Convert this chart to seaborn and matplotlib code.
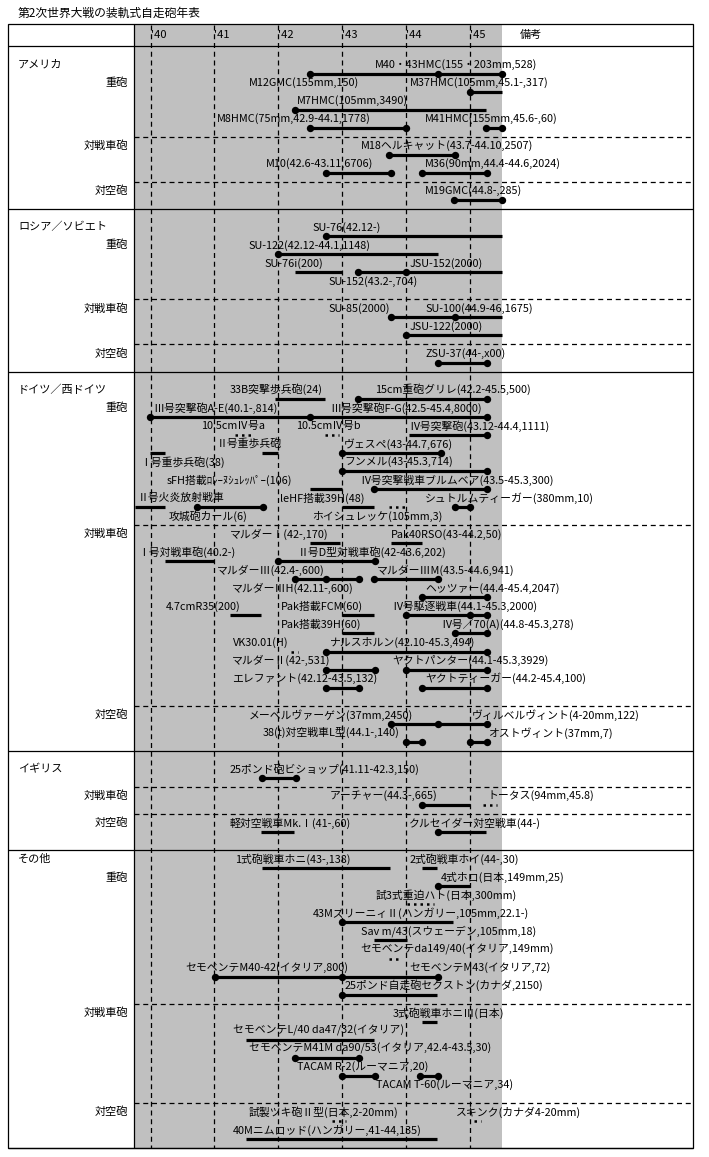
import matplotlib
matplotlib.use("Agg")
import matplotlib.pyplot as plt
from matplotlib.patches import Rectangle
import pandas as pd
import seaborn as sns

# ---------------- data ----------------
title = "第2次世界大戦の装軌式自走砲年表"
years = [40, 41, 42, 43, 44, 45]
year_labels = ["'40", "'41", "'42", "'43", "'44", "'45"]

countries = ["アメリカ", "ロシア／ソビエト", "ドイツ／西ドイツ", "イギリス", "その他"]
country_rows = [2, 20, 38, 80, 90]

kinds = ["重砲", "対戦車砲", "対空砲",
         "重砲", "対戦車砲", "対空砲",
         "重砲", "対戦車砲", "対空砲",
         "対戦車砲", "対空砲",
         "重砲", "対戦車砲", "対空砲"]
kind_rows = [4, 11, 16, 22, 29, 34, 40, 54, 74, 83, 86, 92, 107, 118]

section_rows = [0, 18, 36, 78, 89, 122]
group_rows = [10, 15, 28, 33, 53, 73, 82, 85, 106, 117]

label_text = [
    # America
    "M40・43HMC(155・203mm,528)", "M12GMC(155mm,150)", "M37HMC(105mm,45.1-,317)",
    "M7HMC(105mm,3490)", "M8HMC(75mm,42.9-44.1,1778)", "M41HMC(155mm,45.6-,60)",
    "M18ヘルキャット(43.7-44.10,2507)", "M10(42.6-43.11,6706)", "M36(90mm,44.4-44.6,2024)",
    "M19GMC(44.8-,285)",
    # Russia
    "SU-76(42.12-)", "SU-122(42.12-44.1,1148)", "SU-76i(200)", "JSU-152(2000)",
    "SU-152(43.2-,704)", "SU-85(2000)", "SU-100(44.9-46,1675)", "JSU-122(2000)",
    "ZSU-37(44-,x00)",
    # Germany
    "33B突撃歩兵砲(24)", "15cm重砲グリレ(42.2-45.5,500)",
    "Ⅲ号突撃砲A-E(40.1-,814)", "Ⅲ号突撃砲F-G(42.5-45.4,8000)",
    "10.5cmⅣ号a", "10.5cmⅣ号b", "Ⅳ号突撃砲(43.12-44.4,1111)",
    "Ⅱ号重歩兵砲", "ヴェスペ(43-44.7,676)", "Ⅰ号重歩兵砲(38)", "フンメル(43-45.3,714)",
    "sFH搭載ﾛﾚｰﾇｼｭﾚｯﾊﾟｰ(106)", "Ⅳ号突撃戦車ブルムベア(43.5-45.3,300)",
    "Ⅱ号火炎放射戦車", "leHF搭載39H(48)", "シュトルムティーガー(380mm,10)",
    "攻城砲カール(6)", "ホイシュレッケ(105mm,3)",
    "マルダーⅠ(42-,170)", "Pak40RSO(43-44.2,50)",
    "Ⅰ号対戦車砲(40.2-)", "Ⅱ号D型対戦車砲(42-43.6,202)",
    "マルダーⅢ(42.4-,600)", "マルダーⅢM(43.5-44.6,941)",
    "マルダーⅢH(42.11-,600)", "ヘッツァー(44.4-45.4,2047)",
    "4.7cmR35(200)", "Pak搭載FCM(60)", "Ⅳ号駆逐戦車(44.1-45.3,2000)",
    "Pak搭載39H(60)", "Ⅳ号／70(A)(44.8-45.3,278)",
    "VK30.01(H)", "ナルスホルン(42.10-45.3,494)",
    "マルダーⅡ(42-,531)", "ヤクトパンター(44.1-45.3,3929)",
    "エレファント(42.12-43.5,132)", "ヤクトティーガー(44.2-45.4,100)",
    "メーベルヴァーゲン(37mm,2450)", "ヴィルベルヴィント(4-20mm,122)",
    "38(t)対空戦車L型(44.1-,140)", "オストヴィント(37mm,7)",
    # UK
    "25ポンド砲ビショップ(41.11-42.3,150)", "アーチャー(44.3-,665)", "トータス(94mm,45.8)",
    "軽対空戦車Mk.Ⅰ(41-,60)", "クルセイダー対空戦車(44-)",
    # others
    "1式砲戦車ホニ(43-,138)", "2式砲戦車ホイ(44-,30)", "4式ホロ(日本,149mm,25)",
    "試3式重迫ハト(日本,300mm)", "43MズリーニィⅡ(ハンガリー,105mm,22.1-)",
    "Sav m/43(スウェーデン,105mm,18)", "セモベンテda149/40(イタリア,149mm)",
    "セモベンテM40-42(イタリア,800)", "セモベンテM43(イタリア,72)",
    "25ポンド自走砲セクストン(カナダ,2150)",
    "3式砲戦車ホニⅢ(日本)", "セモベンテL/40 da47/32(イタリア)",
    "セモベンテM41M da90/53(イタリア,42.4-43.5,30)",
    "TACAM R-2(ルーマニア,20)", "TACAM T-60(ルーマニア,34)",
    "試製ツキ砲Ⅱ型(日本,2-20mm)", "スキンク(カナダ4-20mm)",
    "40Mニムロッド(ハンガリー,41-44,135)",
]
label_year = [
    43.51, 41.54, 44.06, 42.29, 41.04, 44.30, 43.29, 41.81, 44.30, 44.30,
    42.53, 41.54, 41.78, 44.05, 42.79, 42.79, 44.30, 44.05, 44.30,
    41.24, 43.51, 40.05, 42.82, 40.79, 42.28, 44.05, 41.04, 43.03, 39.84, 43.03,
    40.26, 43.29, 39.80, 42.03, 44.30, 40.29, 42.53,
    41.24, 43.76, 39.80, 42.31, 41.04, 43.54, 41.28, 44.30,
    40.24, 42.04, 43.79, 42.04, 44.55, 41.29, 42.81, 41.28, 43.79, 41.28, 44.30,
    41.54, 45.03, 41.76, 45.28,
    41.24, 42.81, 45.28, 41.24, 44.05,
    41.32, 44.05, 44.55, 43.53, 42.54, 43.29, 43.29, 40.54, 44.05, 43.03,
    43.79, 41.29, 41.54, 42.29, 43.53, 41.54, 44.78, 41.29,
]
label_row = [
    2, 4, 4, 6, 8, 8, 11, 13, 13, 16,
    20, 22, 24, 24, 26, 29, 29, 31, 34,
    38, 38, 40, 40, 42, 42, 42, 44, 44, 46, 46,
    48, 48, 50, 50, 50, 52, 52,
    54, 54, 56, 56, 58, 58, 60, 60,
    62, 62, 62, 64, 64, 66, 66, 68, 68, 70, 70,
    74, 74, 76, 76,
    80, 83, 83, 86, 86,
    90, 90, 92, 94, 96, 98, 100, 102, 102, 104,
    107, 109, 111, 113, 115, 118, 118, 120,
]

bar_start = [
    42.50, 45.00, 42.26, 42.50, 45.25, 43.73, 42.75, 44.25, 44.75,
    42.75, 42.00, 42.26, 43.25, 43.76, 44.00, 44.50,
    41.95, 43.25, 39.99, 44.05, 41.74, 43.00, 39.99, 43.00, 42.50, 43.50,
    39.76, 40.73, 43.00, 44.77,
    42.50, 43.76, 40.23, 42.00, 42.26, 43.50, 44.25, 41.24, 43.00, 44.00,
    43.00, 44.77, 42.75, 42.75, 44.00, 42.75, 44.25,
    43.76, 44.00, 45.00,
    41.74, 44.25, 41.73, 44.50,
    41.74, 44.25, 44.50, 43.00, 43.50, 41.01, 43.00,
    44.25, 41.49, 42.26, 43.00, 44.22, 41.49,
]
bar_end = [
    45.50, 45.50, 45.25, 44.00, 45.50, 44.77, 43.76, 45.27, 45.50,
    45.50, 44.50, 43.00, 45.50, 45.50, 45.50, 45.27,
    42.73, 45.27, 45.27, 45.27, 42.00, 44.55, 40.23, 45.27, 43.00, 45.27,
    40.23, 41.76, 43.50, 45.00,
    42.97, 44.25, 41.00, 43.51, 43.26, 44.50, 45.27, 41.73, 43.50, 45.27,
    43.50, 45.27, 45.27, 43.51, 45.27, 43.26, 45.27,
    45.27, 44.25, 45.27,
    42.28, 45.00, 42.25, 45.25,
    43.75, 44.48, 45.00, 44.73, 44.02, 44.50, 44.48,
    44.48, 43.50, 43.26, 43.51, 44.50, 44.48,
]
bar_row = [
    3, 5, 7, 9, 9, 12, 14, 14, 17,
    21, 23, 25, 25, 30, 32, 35,
    39, 39, 41, 43, 45, 45, 45, 47, 49, 49,
    51, 51, 51, 51,
    55, 55, 57, 57, 59, 59, 61, 63, 63, 63,
    65, 65, 67, 69, 69, 71, 71,
    75, 77, 77,
    81, 84, 87, 87,
    91, 91, 93, 97, 99, 103, 105,
    108, 110, 112, 114, 114, 121,
]
bar_dots = [
    (42.50, 44.50, 45.50), (45.00,), (42.26,), (42.50, 44.00), (45.25, 45.50),
    (43.73, 44.77), (42.75, 43.76), (44.25, 45.27), (44.75, 45.50),
    (42.75,), (42.00,), (), (43.25, 44.00), (43.76, 44.77), (44.00,), (44.50, 45.27),
    (), (43.25, 45.27), (39.99, 42.50, 45.27), (45.27,), (), (43.00, 44.55), (),
    (43.00, 45.27), (), (43.50, 45.27),
    (), (40.73, 41.76), (), (44.77, 45.00),
    (), (), (), (42.00, 43.51), (42.26, 42.75, 43.26), (43.50, 44.50), (44.25, 45.27),
    (), (), (44.00, 45.00, 45.27),
    (), (44.77, 45.27), (42.75, 45.27), (42.75, 43.51), (44.00, 45.27),
    (42.75, 43.26), (44.25, 45.27),
    (43.76, 44.50, 45.27), (44.00, 44.25), (45.00, 45.27),
    (41.74, 42.28), (44.25,), (), (44.50,),
    (), (), (44.50,), (43.00,), (), (41.01, 43.00, 44.50), (43.00,),
    (), (), (42.26, 43.26), (43.00, 43.51), (44.22, 44.50), (),
]

# short dotted marks for very small production runs
mark_start = [41.32, 42.73, 43.73, 42.20, 45.20, 44.02, 43.73, 42.84, 45.06]
mark_end = [41.60, 42.95, 44.02, 42.31, 45.42, 44.44, 43.94, 43.06, 45.17]
mark_row = [43, 43, 51, 67, 84, 95, 101, 119, 119]


# pixel -> data helpers for the table layout
def X(px):
    return 40 + (px - 150.5) / 63.9


def Y(py):
    return (py - 46.5) / 9.03


sns.set_theme(style="white")
plt.rcParams["font.family"] = ["Noto Sans CJK JP", "DejaVu Sans"]
plt.rcParams["text.color"] = "black"

fig = plt.figure(figsize=(7.09, 11.57), dpi=100)
ax = fig.add_axes([0, 0, 1, 1])
ax.axis("off")

# table background and frame
ax.add_patch(Rectangle((X(134), Y(24)), X(502) - X(134), Y(1148) - Y(24),
                       facecolor="#c0c0c0", edgecolor="none", zorder=0))
ax.add_patch(Rectangle((X(8), Y(24)), X(693) - X(8), Y(1148) - Y(24),
                       fill=False, edgecolor="black", lw=0.9, zorder=2))
ax.vlines(X(134), Y(24), Y(1148), color="black", lw=0.9, zorder=2)
ax.hlines(section_rows, X(8), X(693), color="black", lw=0.9, zorder=2)
ax.hlines(group_rows, X(134), X(693), color="black", lw=0.9,
          linestyles=(0, (4, 3)), zorder=2)
ax.vlines(years, Y(25), Y(1148), color="black", lw=0.9,
          linestyles=(0, (4, 3)), zorder=1)

# header
ax.text(X(18), Y(13), title, fontsize=8.5, ha="left", va="center")
for yr, lab in zip(years, year_labels):
    ax.text(yr, Y(35), lab, fontsize=8, ha="left", va="center")
ax.text(X(520), Y(35), "備考", fontsize=8, ha="left", va="center")

# left column
for name, r in zip(countries, country_rows):
    ax.text(X(18), r, name, fontsize=8, ha="left", va="center")
for name, r in zip(kinds, kind_rows):
    ax.text(X(128), r, name, fontsize=8, ha="right", va="center")

# bars
ax.hlines(bar_row, bar_start, bar_end, color="black", lw=2.3, zorder=3)
ax.hlines(mark_row, mark_start, mark_end, color="black", lw=1.8,
          linestyles=(0, (1, 1.6)), zorder=3)

dots = pd.DataFrame([(d, r) for ds, r in zip(bar_dots, bar_row) for d in ds],
                    columns=["year", "row"])
sns.scatterplot(data=dots, x="year", y="row", color="black", s=28,
                linewidth=0, marker="o", ax=ax, zorder=4, legend=False)

# labels
for t, x, r in zip(label_text, label_year, label_row):
    ax.text(x, r, t, fontsize=7.8, ha="left", va="center", zorder=5)

ax.set_xlim(X(0), X(709))
ax.set_ylim(Y(1157), Y(0))
ax.axis("off")

fig.savefig("out.png", dpi=100)
